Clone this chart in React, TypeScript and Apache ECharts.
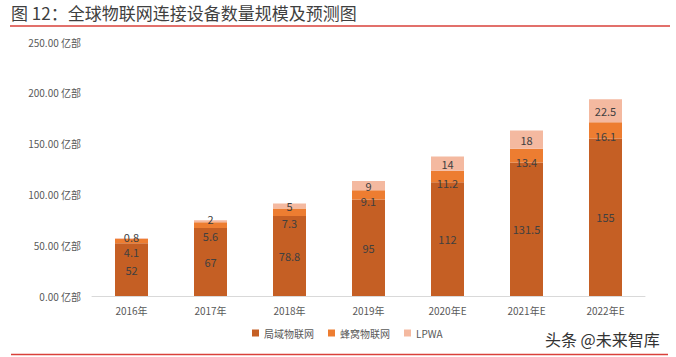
import React, { useEffect, useRef } from "react";
import * as echarts from "echarts";

const categories = ["2016年", "2017年", "2018年", "2019年", "2020年E", "2021年E", "2022年E"];
const seriesNames = ["局域物联网", "蜂窝物联网", "LPWA"];
const localIoT = [52, 67, 78.8, 95, 112, 131.5, 155];
const cellularIoT = [4.1, 5.6, 7.3, 9.1, 11.2, 13.4, 16.1];
const lpwa = [0.8, 2, 5, 9, 14, 18, 22.5];
const colors = ["#C55F24", "#ED7D31", "#F4B9A0"];
const titleText = "图 12：全球物联网连接设备数量规模及预测图";
const watermark = "头条 @未来智库";

export default function App() {
  const ref = useRef<HTMLDivElement>(null);
  useEffect(() => {
    if (!ref.current) return;
    const chart = echarts.init(ref.current, null, { renderer: "svg" });
    const font = "'Noto Sans CJK SC', 'Noto Sans', sans-serif";
    const mk = (name: string, data: number[], color: string, shift: (v: number) => number) => ({
      name,
      type: "bar",
      stack: "total",
      data: data.map((v) => ({ value: v, label: { offset: [0, shift(v)] } })),
      barWidth: 33,
      itemStyle: { color },
      label: {
        show: true,
        position: "inside",
        color: "#404040",
        fontSize: 11,
        lineHeight: 12,
        fontFamily: font,
      },
    });
    chart.setOption({
      animation: false,
      textStyle: { fontFamily: font },
      grid: { left: 92, right: 31, top: 42, bottom: 61 },
      legend: {
        data: seriesNames,
        bottom: 14,
        left: 247,
        itemWidth: 7,
        itemHeight: 7,
        itemGap: 14,
        icon: "rect",
        textStyle: { color: "#595959", fontSize: 10, fontFamily: font },
      },
      xAxis: {
        type: "category",
        data: categories,
        axisLine: { lineStyle: { color: "#D9D9D9" } },
        axisTick: { show: false },
        axisLabel: { color: "#595959", fontSize: 10, margin: 9 },
      },
      yAxis: {
        type: "value",
        min: 0,
        max: 250,
        interval: 50,
        splitLine: { show: false },
        axisLine: { show: false },
        axisTick: { show: false },
        axisLabel: {
          color: "#595959",
          fontSize: 10,
          margin: 11,
          formatter: (v: number) => v.toFixed(2) + " 亿部",
        },
      },
      series: [
        mk(seriesNames[0], localIoT, colors[0], () => 0),
        mk(seriesNames[1], cellularIoT, colors[1], (v) => (v < 8 ? 11 : 6)),
        mk(seriesNames[2], lpwa, colors[2], (v) => (v < 3 ? -2 : 0)),
      ],
      graphic: [
        {
          type: "text",
          left: 11,
          top: 4,
          style: { text: titleText, fontSize: 17, fill: "#3F3F3F", fontFamily: font },
        },
        {
          type: "line",
          shape: { x1: 10, y1: 26, x2: 670, y2: 26 },
          style: { stroke: "#D9403A", lineWidth: 1.5 },
        },
        {
          type: "text",
          left: 545,
          top: 331,
          style: { text: watermark, fontSize: 16, fill: "#333333", fontFamily: font },
        },
        {
          type: "line",
          shape: { x1: 11, y1: 354.5, x2: 668, y2: 354.5 },
          style: { stroke: "#D9403A", lineWidth: 1.5 },
        },
      ],
    });
    return () => chart.dispose();
  }, []);
  return <div ref={ref} style={{ width: 676, height: 357, position: "absolute", left: 0, top: 0 }} />;
}
